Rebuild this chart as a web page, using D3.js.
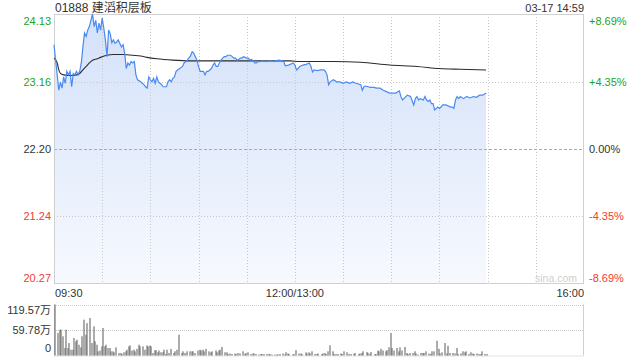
<!DOCTYPE html>
<html>
<head>
<meta charset="utf-8">
<script src="https://cdn.jsdelivr.net/npm/d3@7"></script>
<style>
  body { margin: 0; background: #fff; }
  svg { display: block; font-family: "Liberation Sans", Arial, "Noto Sans CJK SC", sans-serif; }
</style>
</head>
<body>
<svg width="640" height="360"></svg>
<script>
let stockName = "01888 建滔积层板";
let stamp = "03-17 14:59";
let prevClose = 22.20;

// price ticks (left) and change ticks (right)
let priceTicks = [24.13, 23.16, 22.20, 21.24, 20.27];
let pctTicks = ["+8.69%", "+4.35%", "0.00%", "-4.35%", "-8.69%"];
let timeTicks = ["09:30", "12:00/13:00", "16:00"];
let timeTickMin = [0, 150, 330];
let volTicks = [119.57, 59.78, 0];
let volTickLabels = ["119.57万", "59.78万", "0"];

// minute index from 09:30 (lunch removed), price
let priceMin = [0,3,4,5,6,7,8,9,10,11,12,13,14,15,16,17,18,19,20,21,22,24,25,26,27,28,29,30,31,32,33,34,35,36,37,38,39,40,41,42,43,44,45,46,47,48,49,50,51,52,54,55,56,57,58,59,60,61,62,63,64,65,66,67,68,70,71,72,73,74,75,76,77,80,81,83,85,86,87,88,89,90,91,93,94,95,96,97,98,99,100,101,102,103,104,105,106,107,108,110,111,112,113,114,115,116,117,118,119,120,121,122,123,124,125,126,127,128,130,132,134,136,137,138,140,142,143,144,146,149,150,151,152,153,155,157,159,160,161,162,164,166,168,169,170,171,172,174,176,178,180,182,184,186,188,191,192,193,194,197,199,201,203,205,207,209,211,213,214,215,216,217,220,222,224,225,226,227,228,230,231,232,233,234,235,236,237,238,239,240,241,242,244,247,248,249,250,251,252,253,255,257,259,261,263,265,267,269];
let priceVal = [23.69,23.04,23.16,23.07,23.23,23.14,23.31,23.26,23.31,23.09,23.28,23.26,23.31,23.26,23.31,23.43,23.66,23.86,23.81,23.90,23.95,24.13,23.95,24.04,23.86,24.00,23.90,24.07,23.93,23.76,23.52,23.90,23.85,23.72,23.76,23.71,23.73,23.76,23.71,23.66,23.69,23.57,23.35,23.43,23.40,23.45,23.43,23.45,23.26,23.19,23.16,23.14,23.12,23.09,23.07,23.23,23.19,23.16,23.21,23.14,23.23,23.16,23.14,23.12,23.09,23.09,23.16,23.19,23.16,23.21,23.23,23.31,23.33,23.38,23.43,23.47,23.53,23.59,23.57,23.52,23.47,23.38,23.31,23.31,23.26,23.31,23.31,23.33,23.35,23.40,23.43,23.38,23.38,23.43,23.47,23.50,23.52,23.52,23.54,23.54,23.52,23.50,23.50,23.47,23.48,23.50,23.50,23.52,23.51,23.50,23.50,23.47,23.48,23.46,23.43,23.43,23.45,23.45,23.46,23.45,23.46,23.46,23.45,23.46,23.47,23.46,23.45,23.39,23.40,23.43,23.40,23.33,23.35,23.38,23.40,23.41,23.43,23.38,23.30,23.33,23.32,23.33,23.33,23.31,23.26,23.12,23.16,23.19,23.16,23.16,23.14,23.16,23.14,23.16,23.14,23.12,23.04,23.09,23.10,23.08,23.08,23.07,23.07,23.04,23.02,23.00,23.00,23.00,23.02,23.03,22.95,22.90,22.97,22.95,22.83,22.92,22.95,22.90,22.92,22.90,22.95,22.90,22.88,22.90,22.85,22.85,22.76,22.78,22.80,22.78,22.80,22.83,22.83,22.80,22.80,22.78,22.90,22.95,22.92,22.95,22.92,22.95,22.93,22.95,22.94,22.97,22.97,23.00];

// average price line
let avgMin = [0,2,3,4,6,10,14,16,18,20,22,24,27,29,33,37,43,49,54,58,64,74,85,105,126,147,153,174,191,209,226,240,253,269];
let avgVal = [23.50,23.43,23.33,23.28,23.26,23.25,23.26,23.28,23.33,23.38,23.43,23.47,23.49,23.51,23.54,23.55,23.55,23.54,23.53,23.51,23.49,23.47,23.46,23.46,23.46,23.46,23.45,23.45,23.44,23.40,23.38,23.35,23.34,23.33];

// volume (万 shares) per minute
let volMin = [0,2,3,4,5,6,7,8,9,10,11,12,13,14,15,16,17,18,19,20,22,23,24,25,26,27,28,29,30,31,32,33,34,35,36,37,38,40,41,42,43,44,45,46,47,48,49,50,51,52,53,55,56,57,58,59,60,61,62,63,64,65,66,67,68,69,70,71,72,74,75,76,77,79,80,81,82,84,85,86,87,89,90,91,92,93,94,96,97,98,100,101,102,103,104,106,107,108,109,110,112,113,114,115,117,118,119,120,122,123,124,125,127,128,129,130,132,133,134,135,137,138,139,140,142,143,144,145,146,148,149,150,152,153,154,156,157,158,159,160,162,163,164,166,167,168,169,170,171,173,174,175,176,178,179,180,182,183,184,186,187,189,190,191,192,194,195,196,197,199,200,201,202,203,204,206,207,208,209,210,211,213,214,215,216,218,219,220,221,223,224,225,226,228,229,230,231,233,234,235,236,238,239,240,241,243,244,245,246,248,249,250,251,253,254,255,256,258,259,260,261,263,264,265,266,268,269];
let volVal = [119.6,52.8,60.5,60.5,45,17.6,60.5,17.6,29.3,13.6,13.6,41,33.2,37,25.3,19.2,45,84,48.8,76,88,29.3,68.5,33.2,25.3,9.8,11.7,21.5,64.5,21.5,25.3,17.6,17.6,9.8,9.8,7.5,19.2,5.9,5.9,3.5,7.5,9.8,13.6,21.5,23.5,11.7,13.6,9.8,15.6,25.3,21.5,21.5,13.6,23.5,21.5,23.5,21.5,5.9,12.5,12.5,7.5,11.7,7.5,7.5,13.6,3.5,13.6,5.9,15.6,5.9,9.8,13.6,48.8,5.9,9.8,5.9,9.8,9.8,9.8,9.8,5.9,11.7,13.6,11.7,13.6,9.8,15.6,9.8,7.5,9.8,11.7,7.5,11.7,13.6,20,7.5,7.5,3.5,4.7,3.5,4.7,3.5,5.9,4.7,9.8,3.5,5.9,7.5,3.5,4.7,4.7,3.5,2.3,3.5,3.5,3.5,3.5,3.5,2.9,2.3,2.3,2.3,2.3,3.5,4.7,2.3,7.5,4.7,3.5,2.3,3.5,12.5,4.7,4.7,3.5,7.5,4.7,7.5,4.7,9.8,3.5,3.5,4.7,3.5,4.7,5.9,3.5,9.8,23.9,9.8,3.5,3.5,3.5,4.7,3.5,9.8,7.5,3.5,3.5,3.5,5.9,3.5,4.7,5.9,9.8,8,5.9,3.5,8,3.5,3.5,11.7,9.8,15.6,11.7,9.8,12.5,19.2,52.8,17.6,11.7,17.6,9.8,19.2,11.7,20,5.9,3.5,5.9,5.9,9.8,4.7,2.3,5.9,5.9,5.9,9.8,4.7,3.5,9.8,9.8,34.8,15.6,4.7,7.5,29.3,4.7,23,5.9,5.9,4.7,17.6,3.5,4.7,9.8,7.5,9.8,3.5,7.5,4.7,3.5,4.7,3.5,3.5,9.8,3.5,3.5];

let green = "#1aa51a";
let red = "#f23a2f";
let dark = "#333";

let svg = d3.select("svg");
let pane = {l: 54, r: 584, t: 14, b: 284};
let volPane = {t: 304.5, b: 355.5};

let x = d3.scaleLinear().domain([0, 330]).range([pane.l, pane.r]);
let y = d3.scaleLinear().domain([priceTicks[4], priceTicks[0]]).range([pane.b, pane.t]);
let yVol = d3.scaleLinear().domain([0, volTicks[0]]).range([volPane.b, volPane.t]);

function tickColor(i) {
  if (i < 2) return green;
  if (i > 2) return red;
  return dark;
}

// gradient for area
let defs = svg.append("defs");
let grad = defs.append("linearGradient")
  .attr("id", "fillGrad")
  .attr("gradientUnits", "userSpaceOnUse")
  .attr("x1", 0).attr("y1", pane.t).attr("x2", 0).attr("y2", pane.b);
grad.append("stop").attr("offset", "0").attr("stop-color", "#d3e1fa");
grad.append("stop").attr("offset", "1").attr("stop-color", "#f7f9fe");

let priceData = priceMin.map((m, i) => ({m: m, v: priceVal[i]}));
let avgData = avgMin.map((m, i) => ({m: m, v: avgVal[i]}));
let volData = volMin.map((m, i) => ({m: m, v: volVal[i]}));

// area
svg.append("path")
  .datum(priceData)
  .attr("fill", "url(#fillGrad)")
  .attr("d", d3.area()
    .x(d => x(d.m))
    .y0(pane.b)
    .y1(d => y(d.v)));

// grid: vertical every 30 min
let gridG = svg.append("g");
gridG.selectAll("line.v")
  .data(d3.range(30, 330, 30))
  .join("line")
    .attr("x1", d => Math.round(x(d)) + 0.5)
    .attr("x2", d => Math.round(x(d)) + 0.5)
    .attr("y1", pane.t)
    .attr("y2", pane.b)
    .attr("stroke", "#c8c8c8")
    .attr("stroke-dasharray", "1,2");

gridG.selectAll("line.h")
  .data(priceTicks.slice(1, 4))
  .join("line")
    .attr("x1", pane.l)
    .attr("x2", pane.r)
    .attr("y1", d => Math.round(y(d)) + 0.5)
    .attr("y2", d => Math.round(y(d)) + 0.5)
    .attr("stroke", d => d === prevClose ? "#aaa" : "#c8c8c8")
    .attr("stroke-dasharray", d => d === prevClose ? "3,2" : "1,2");

// frame
svg.append("rect")
  .attr("x", pane.l + 0.5).attr("y", pane.t + 0.5)
  .attr("width", pane.r - pane.l - 1).attr("height", pane.b - pane.t - 1)
  .attr("fill", "none")
  .attr("stroke", "#d0d0d0");

// watermark
svg.append("text")
  .attr("x", 577).attr("y", 282)
  .attr("text-anchor", "end")
  .attr("font-size", "10.5px")
  .attr("fill", "#cfcfcf")
  .text("sina.com");

// average line
svg.append("path")
  .datum(avgData)
  .attr("fill", "none")
  .attr("stroke", "#2b2b2b")
  .attr("stroke-width", 1.1)
  .attr("d", d3.line().curve(d3.curveMonotoneX).x(d => x(d.m)).y(d => y(d.v)));

// price line
svg.append("path")
  .datum(priceData)
  .attr("fill", "none")
  .attr("stroke", "#4a8af0")
  .attr("stroke-width", 1.2)
  .attr("d", d3.line().x(d => x(d.m)).y(d => y(d.v)));

// left price labels
svg.append("g").selectAll("text")
  .data(priceTicks)
  .join("text")
    .attr("x", 51)
    .attr("y", (d, i) => i === 0 ? y(d) + 10.5 : (i === 4 ? y(d) - 2.3 : y(d) + 4))
    .attr("text-anchor", "end")
    .attr("font-size", "11px")
    .attr("fill", (d, i) => tickColor(i))
    .text(d => d.toFixed(2));

// right pct labels
svg.append("g").selectAll("text")
  .data(pctTicks)
  .join("text")
    .attr("x", 589)
    .attr("y", (d, i) => {
      let v = priceTicks[i];
      return i === 0 ? y(v) + 10.5 : (i === 4 ? y(v) - 2.3 : y(v) + 4);
    })
    .attr("font-size", "11px")
    .attr("fill", (d, i) => tickColor(i))
    .text(d => d);

// time labels
svg.append("g").selectAll("text")
  .data(timeTicks)
  .join("text")
    .attr("x", (d, i) => x(timeTickMin[i]) + (i === 0 ? 1 : 0))
    .attr("y", 296.5)
    .attr("text-anchor", (d, i) => i === 0 ? "start" : (i === 2 ? "end" : "middle"))
    .attr("font-size", "11px")
    .attr("fill", dark)
    .text(d => d);

// title + stamp
svg.append("text")
  .attr("x", 55).attr("y", 12)
  .attr("font-size", "12px")
  .attr("fill", dark)
  .text(stockName);
svg.append("text")
  .attr("x", 584).attr("y", 11.5)
  .attr("text-anchor", "end")
  .attr("font-size", "11px")
  .attr("fill", dark)
  .text(stamp);

// volume pane
let volG = svg.append("g");
volG.selectAll("line.vh")
  .data(volTicks.slice(0, 2))
  .join("line")
    .attr("x1", pane.l)
    .attr("x2", pane.r)
    .attr("y1", d => Math.round(yVol(d)) + 0.5)
    .attr("y2", d => Math.round(yVol(d)) + 0.5)
    .attr("stroke", "#c8c8c8")
    .attr("stroke-width", 1)
    .attr("stroke-dasharray", "1,1");
volG.append("line")
  .attr("x1", pane.r - 0.5).attr("x2", pane.r - 0.5)
  .attr("y1", volPane.t).attr("y2", volPane.b)
  .attr("stroke", "#d0d0d0");
volG.append("line")
  .attr("x1", pane.l + 0.5).attr("x2", pane.l + 0.5)
  .attr("y1", volPane.t).attr("y2", volPane.b)
  .attr("stroke", "#d0d0d0");
volG.append("line")
  .attr("x1", pane.l).attr("x2", pane.r)
  .attr("y1", volPane.b + 0.5).attr("y2", volPane.b + 0.5)
  .attr("stroke", "#e4e4e4");

volG.selectAll("rect")
  .data(volData)
  .join("rect")
    .attr("x", d => Math.round(x(d.m)) + 0.5)
    .attr("y", d => yVol(d.v))
    .attr("width", 1)
    .attr("height", d => volPane.b - yVol(d.v))
    .attr("fill", "#5a5a5a");

svg.append("g").selectAll("text")
  .data(volTicks)
  .join("text")
    .attr("x", 51)
    .attr("y", (d, i) => i === 0 ? yVol(d) + 9.5 : (i === 2 ? yVol(d) - 3.5 : yVol(d) + 3.5))
    .attr("text-anchor", "end")
    .attr("font-size", "11px")
    .attr("fill", dark)
    .text((d, i) => volTickLabels[i]);
</script>
</body>
</html>
